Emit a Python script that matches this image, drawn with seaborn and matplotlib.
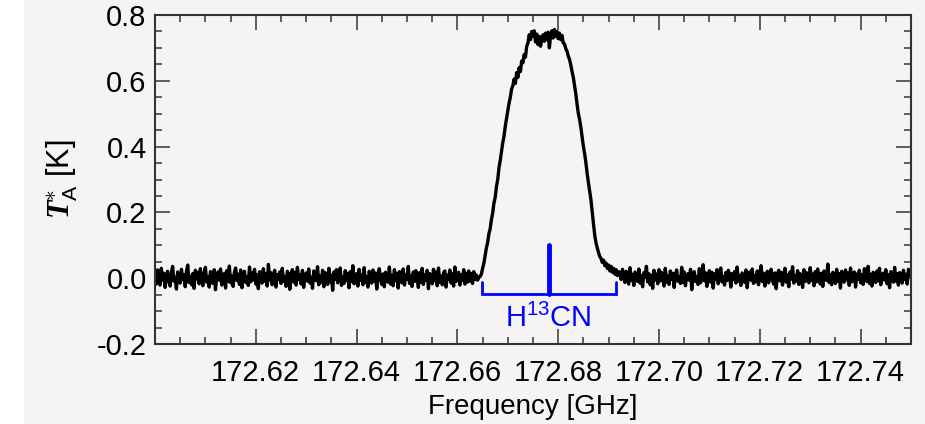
import numpy as np
import pandas as pd
import matplotlib
matplotlib.use("Agg")
import matplotlib.pyplot as plt
import seaborn as sns
from matplotlib.ticker import MultipleLocator, FixedLocator

# ---------------- data ----------------
freq_start = 172.600    # GHz, first channel
freq_step = 0.00025     # GHz per channel

# T_A* [K], baseline channels below the line (172.600 - 172.66425 GHz)
ta_left_baseline = [
    0.012, -0.018, 0.025, 0.004, -0.021, 0.030, -0.006, 0.015, -0.028, 0.009,
    0.021, -0.011, -0.024, 0.017, 0.036, -0.009, 0.003, -0.033, 0.019, 0.007,
    -0.015, 0.027, -0.004, 0.011, -0.026, 0.022, 0.040, -0.013, 0.006, -0.020,
    0.014, -0.031, 0.024, -0.002, 0.018, -0.017, 0.029, -0.008, -0.023, 0.016,
    0.033, -0.012, 0.005, -0.027, 0.020, 0.010, -0.016, 0.026, -0.035, 0.008,
    0.019, -0.006, 0.028, -0.021, 0.002, 0.015, -0.030, 0.023, -0.010, 0.037,
    -0.014, 0.006, -0.025, 0.018, 0.031, -0.007, 0.012, -0.019, 0.025, -0.029,
    0.009, 0.021, -0.013, 0.004, -0.022, 0.034, -0.011, 0.016, -0.005, 0.027,
    -0.018, 0.010, -0.032, 0.020, 0.001, -0.015, 0.029, -0.009, 0.013, -0.024,
    0.042, -0.006, 0.017, -0.020, 0.008, 0.024, -0.027, 0.011, -0.003, 0.019,
    -0.016, 0.030, -0.010, 0.005, -0.025, 0.021, 0.014, -0.034, 0.009, 0.026,
    -0.012, 0.018, -0.021, 0.033, -0.004, 0.011, -0.018, 0.024, -0.028, 0.007,
    0.016, -0.009, 0.028, -0.015, 0.003, -0.031, 0.022, 0.013, -0.008, 0.035,
    -0.020, 0.006, -0.013, 0.024, -0.026, 0.017, 0.002, -0.019, 0.030, -0.011,
    0.009, -0.037, 0.019, -0.004, 0.026, -0.014, 0.012, 0.031, -0.022, 0.005,
    -0.016, 0.023, -0.007, 0.015, -0.029, 0.020, -0.010, 0.038, -0.017, 0.008,
    0.014, -0.024, 0.027, -0.006, 0.010, -0.020, 0.032, -0.013, 0.004, -0.027,
    0.021, 0.007, -0.015, 0.025, -0.009, 0.016, -0.033, 0.012, 0.029, -0.005,
    -0.019, 0.013, -0.026, 0.018, 0.001, -0.012, 0.034, -0.018, 0.009, -0.023,
    0.026, -0.008, 0.015, -0.030, 0.020, 0.006, -0.014, 0.028, -0.021, 0.011,
    -0.004, 0.036, -0.016, 0.008, -0.025, 0.019, -0.010, 0.023, 0.003, -0.028,
    0.017, -0.012, 0.030, -0.019, 0.010, -0.006, 0.024, -0.032, 0.014, 0.005,
    -0.017, 0.027, -0.008, 0.019, -0.023, 0.031, -0.013, 0.006, -0.020, 0.016,
    0.022, -0.027, 0.009, -0.003, 0.025, -0.015, 0.013, -0.024, 0.034, -0.010,
    0.004, 0.018, -0.021, 0.011, -0.007, 0.026, -0.018, 0.015, -0.012, 0.022,
    -0.009, 0.014, -0.016, 0.020, -0.004, 0.010, -0.006, 0.003,
]

# T_A* [K], H13CN line channels (172.6645 - 172.692 GHz)
ta_line = [
    0.005, 0.012, 0.030, 0.045, 0.068, 0.092, 0.108, 0.135, 0.150, 0.178,
    0.198, 0.228, 0.246, 0.278, 0.300, 0.335, 0.358, 0.386, 0.412, 0.432,
    0.462, 0.485, 0.508, 0.532, 0.550, 0.575, 0.585, 0.605, 0.592, 0.625,
    0.610, 0.640, 0.628, 0.660, 0.655, 0.680, 0.672, 0.705, 0.715, 0.740,
    0.725, 0.750,
    0.735, 0.752, 0.718, 0.742, 0.710, 0.735, 0.705, 0.728, 0.740, 0.720,
    0.745, 0.725, 0.748, 0.700, 0.738, 0.752, 0.730, 0.756, 0.735, 0.750,
    0.728, 0.745, 0.725, 0.738, 0.715, 0.712, 0.698, 0.690, 0.675, 0.665,
    0.648, 0.628, 0.610, 0.585, 0.560, 0.528, 0.500, 0.482, 0.458, 0.430,
    0.400, 0.378, 0.350, 0.318, 0.290, 0.265, 0.238, 0.200, 0.165, 0.130,
    0.108, 0.092, 0.078, 0.066, 0.060, 0.048, 0.055, 0.038, 0.046, 0.030,
    0.040, 0.022, 0.036, 0.018, 0.030, 0.012, 0.026, 0.008, 0.020,
]

# T_A* [K], baseline channels above the line (172.69225 - 172.74975 GHz)
ta_right_baseline = [
    0.015, -0.004, 0.027, 0.010, -0.013, 0.021, 0.002, -0.018, 0.032, -0.007,
    0.012, -0.022, 0.019, 0.005, -0.010, 0.028, -0.015, 0.008, -0.026, 0.017,
    0.003, 0.036, -0.011, 0.014, -0.020, 0.009, -0.031, 0.024, -0.005, 0.013,
    -0.017, 0.026, -0.008, 0.018, 0.001, -0.024, 0.030, -0.012, 0.007, -0.019,
    0.022, -0.003, 0.015, -0.028, 0.011, 0.025, -0.009, 0.004, -0.016, 0.033,
    -0.013, 0.019, -0.023, 0.008, 0.014, -0.006, 0.027, -0.035, 0.012, 0.020,
    -0.010, 0.004, -0.019, 0.029, -0.014, 0.010, 0.041, -0.008, 0.016, -0.025,
    0.006, 0.023, -0.012, 0.018, -0.030, 0.013, -0.002, 0.026, -0.017, 0.009,
    0.031, -0.011, 0.005, -0.021, 0.017, -0.007, 0.024, 0.012, -0.027, 0.014,
    -0.004, 0.020, -0.015, 0.034, -0.009, 0.008, -0.022, 0.016, 0.003, -0.013,
    0.025, -0.029, 0.011, 0.019, -0.006, 0.028, -0.016, 0.007, -0.011, 0.022,
    -0.020, 0.013, 0.038, -0.010, 0.015, -0.024, 0.004, 0.021, -0.014, 0.009,
    0.027, -0.005, -0.018, 0.016, -0.032, 0.012, 0.024, -0.008, 0.018, -0.021,
    0.006, 0.030, -0.012, 0.010, -0.026, 0.019, -0.003, 0.035, -0.015, 0.008,
    -0.009, 0.023, -0.019, 0.014, 0.002, -0.028, 0.026, -0.010, 0.017, 0.005,
    -0.014, 0.032, -0.006, 0.012, -0.023, 0.020, -0.011, 0.028, 0.004, -0.018,
    0.015, -0.025, 0.022, 0.009, -0.007, 0.043, -0.013, 0.011, -0.020, 0.018,
    0.003, -0.016, 0.027, -0.009, 0.014, -0.030, 0.021, 0.007, -0.012, 0.025,
    -0.005, 0.016, -0.022, 0.031, -0.011, 0.006, 0.019, -0.027, 0.013, -0.003,
    0.024, -0.014, 0.010, -0.019, 0.029, 0.002, -0.010, 0.036, -0.016, 0.012,
    -0.024, 0.018, 0.005, -0.013, 0.022, -0.008, 0.030, -0.020, 0.009, 0.015,
    -0.006, 0.026, -0.017, 0.011, -0.029, 0.020, 0.004, -0.012, 0.033, -0.009,
    0.014, -0.021, 0.017, 0.008, -0.015, 0.024, -0.004, 0.012, -0.018, 0.027,
    0.010,
]

x_ticks = [172.62, 172.64, 172.66, 172.68, 172.70, 172.72, 172.74]
x_tick_labels = ["172.62", "172.64", "172.66", "172.68", "172.70", "172.72", "172.74"]
y_ticks = [-0.2, 0.0, 0.2, 0.4, 0.6, 0.8]
y_tick_labels = ["-0.2", "0.0", "0.2", "0.4", "0.6", "0.8"]

# H13CN line marker: bracket span and rest frequency (GHz)
h13cn_rest = 172.6781
h13cn_lo = 172.6648
h13cn_hi = 172.6914
h13cn_label = "H$^{13}$CN"

ta = ta_left_baseline + ta_line + ta_right_baseline
freq = [freq_start + freq_step * i for i in range(len(ta))]
df = pd.DataFrame({"freq": freq, "ta": ta})

# ---------------- style ----------------
sns.set_style("ticks")
bg = "#f5f4f2"
plt.rcParams["font.family"] = ["Liberation Sans", "DejaVu Sans"]
plt.rcParams["text.color"] = "black"
plt.rcParams["axes.labelcolor"] = "black"
plt.rcParams["mathtext.fontset"] = "custom"
plt.rcParams["mathtext.rm"] = "Liberation Sans"
plt.rcParams["mathtext.it"] = "Liberation Sans:italic"
plt.rcParams["mathtext.bf"] = "Liberation Serif:bold:italic"
plt.rcParams["mathtext.bfit"] = "Liberation Serif:bold:italic"

fig = plt.figure(figsize=(9.25, 4.24), dpi=100, facecolor=bg)
# white strip at far left
fig.patches.append(plt.Rectangle((0, 0), 24 / 925, 1, transform=fig.transFigure,
                                 facecolor="white", edgecolor="none", zorder=-10))
ax = fig.add_axes([155 / 925, 1 - 344 / 424, (911 - 155) / 925, (344 - 15) / 424])
ax.set_facecolor(bg)

sns.lineplot(data=df, x="freq", y="ta", ax=ax, color="black", linewidth=2.4,
             estimator=None, sort=False)

ax.set_xlim(172.60, 172.75)
ax.set_ylim(-0.2, 0.8)

ax.xaxis.set_major_locator(FixedLocator(x_ticks))
ax.set_xticklabels(x_tick_labels)
ax.xaxis.set_minor_locator(MultipleLocator(0.005))
ax.yaxis.set_major_locator(FixedLocator(y_ticks))
ax.set_yticklabels(y_tick_labels)
ax.yaxis.set_minor_locator(MultipleLocator(0.05))

ax.tick_params(which="both", direction="in", top=True, right=True,
               color="#444444", width=1.2, labelsize=21, labelcolor="black")
ax.tick_params(axis="x", which="major", length=11, pad=11)
ax.tick_params(axis="y", which="major", length=11, pad=6)
ax.tick_params(which="minor", length=5)
for s in ax.spines.values():
    s.set_color("#333333")
    s.set_linewidth(1.5)

ax.set_xlabel("Frequency [GHz]", fontsize=20, labelpad=5, color="black")
ax.set_ylabel(r"$\mathbfit{T}_{\mathrm{A}}^{\ast}$ [K]", fontsize=22, labelpad=12,
              color="black")

# H13CN annotation
blue = "#0000ff"
ax.plot([h13cn_lo, h13cn_lo, h13cn_hi, h13cn_hi], [-0.012, -0.047, -0.047, -0.012],
        color=blue, linewidth=2, solid_joinstyle="miter")
ax.plot([h13cn_rest, h13cn_rest], [-0.047, 0.10], color=blue, linewidth=3.5)
ax.text(h13cn_rest, -0.122, h13cn_label, color=blue, fontsize=21,
        ha="center", va="center")

fig.savefig("out.png", dpi=100, facecolor=bg)
